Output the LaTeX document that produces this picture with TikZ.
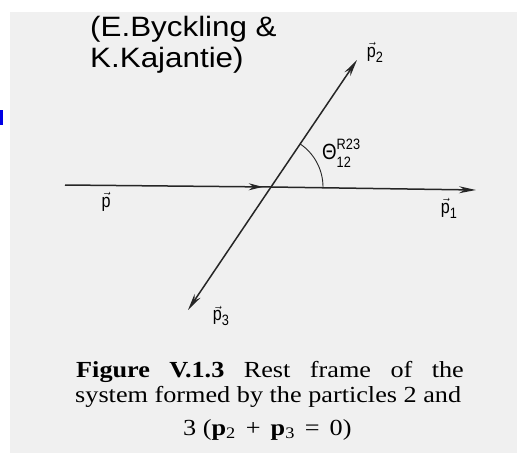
\documentclass[tikz,border=0pt]{standalone}
\usepackage{fontspec}
\setmainfont{Liberation Serif}
\setsansfont{Liberation Sans}
\usetikzlibrary{arrows.meta,decorations.markings}
\newcommand\vecp[1]{{\fontsize{19}{19}\selectfont$\vec{\hbox{\sffamily p}}$}\raisebox{-5pt}{\fontsize{15}{15}\selectfont\sffamily #1}}
\newcommand\gapsp{\hspace{0.38em}}
\tikzset{
  vecline/.style={line width=1.5pt, black!85},
  endtip/.style={-{Stealth[length=17pt,width=7pt]}},
  lab/.style={inner sep=0pt, font=\sffamily, xscale=0.85},
  authortext/.style={inner sep=0pt, anchor=west, font=\sffamily\fontsize{28}{30}\selectfont, xscale=1.12},
  captext/.style={inner sep=0pt, anchor=base west, font=\rmfamily\fontsize{23}{25}\selectfont, xscale=1.14},
  midarrow/.style={postaction={decorate},decoration={markings,mark=at position 0.96 with {\arrow{Stealth[length=14pt,width=7pt]}}}}
}
\begin{document}
\begin{tikzpicture}[x=1pt,y=-1pt]
\useasboundingbox (0,0) rectangle (517,453);
\fill[white] (0,0) rectangle (517,453);
\fill[black!6] (10,12) rectangle (517,453);
\fill[blue!90!black] (0,110) rectangle (3,125);

\coordinate (O) at (271,187);
\coordinate (pin) at (65,185);
\coordinate (p1) at (476,190);
\coordinate (p2) at (357,60);
\coordinate (p3) at (188,310);

\draw[vecline,midarrow] (pin) -- (O);
\draw[vecline,endtip] (O) -- (p1);
\draw[vecline,endtip] (O) -- (p2);
\draw[vecline,endtip] (O) -- (p3);
\draw[line width=0.9pt, black!85] ([xshift=52pt]O) arc[start angle=0, end angle=56, radius=52pt];

\node[lab] (lp2) at (375,52) {\vecp{2}};
\node[lab] (lp1) at (449,208) {\vecp{1}};
\node[lab] (lp) at (106,202) {\vecp{}};
\node[lab] (lp3) at (221,316) {\vecp{3}};
\node[lab, anchor=west] (th) at (322,153) {\fontsize{22}{22}\selectfont Θ\rlap{\raisebox{10pt}{\fontsize{15}{15}\selectfont R23}}\raisebox{-8pt}{\fontsize{15}{15}\selectfont 12}};

\node[authortext] (a1) at (90,29) {(E.Byckling \&};
\node[authortext] (a2) at (90,60) {K.Kajantie)};

\node[captext] (c1) at (76,377) {\makebox[340pt][s]{\textbf{Figure V.1.3} Rest frame of the}};
\node[captext] (c2) at (75,402) {system formed by the particles 2 and};
\node[captext] (c3) at (183,435) {3 (\textbf{p}\textsubscript{2}\gapsp+\gapsp\textbf{p}\textsubscript{3}\gapsp=\gapsp0)};
\end{tikzpicture}
\end{document}
